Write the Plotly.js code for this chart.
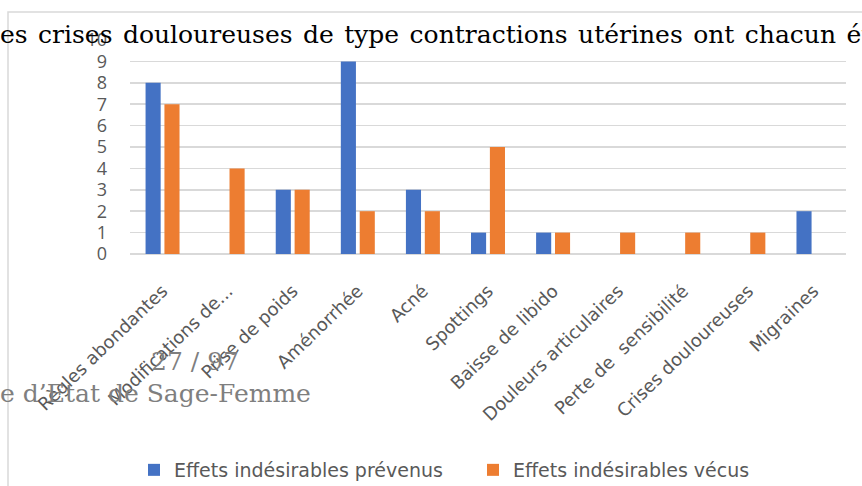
<!DOCTYPE html>
<html>
<head>
<meta charset="utf-8">
<script src="https://cdn.plot.ly/plotly-3.0.1.min.js"></script>
<style>
  html, body { margin: 0; padding: 0; background: #fff; }
  #plot { width: 862px; height: 486px; }
</style>
</head>
<body>
<div id="plot"></div>
<script>
// Categories and series
const categories = ["Règles abondantes", "Modifications de...", "Prise de poids", "Aménorrhée", "Acné",
  "Spottings", "Baisse de libido", "Douleurs articulaires", "Perte de  sensibilité",
  "Crises douloureuses", "Migraines"];
const prevenus = [8, 0, 3, 9, 3, 1, 1, 0, 0, 0, 2];
const vecus = [7, 4, 3, 2, 2, 5, 1, 1, 1, 1, 0];
const yTicks = [0, 1, 2, 3, 4, 5, 6, 7, 8, 9, 10];

// plot area in pixels, used to place the page-text overlays
const W = 862, H = 486;
const L = 130, R = 16, T = 40, B = 232;
const pw = W - L - R, ph = H - T - B;
const px = x => (x - L) / pw;
const py = y => (H - B - y) / ph;

const trace1 = {
  x: categories, y: prevenus, type: 'bar', name: 'Effets indésirables prévenus',
  marker: {color: '#4472c4'}
};
const trace2 = {
  x: categories, y: vecus, type: 'bar', name: 'Effets indésirables vécus',
  marker: {color: '#ed7d31'}
};

const serif = 'DejaVu Serif, serif';
const sp = ' \u200a';  // slightly wider gap between words, like the justified page text
const layout = {
  width: W, height: H,
  margin: {l: L, r: R, t: T, b: B, autoexpand: false},
  paper_bgcolor: '#fff', plot_bgcolor: '#fff',
  barmode: 'group', bargap: 0.42, bargroupgap: 0.2,
  font: {family: 'DejaVu Sans, sans-serif', color: '#595959'},
  xaxis: {
    tickangle: -44, tickfont: {family: 'DejaVu Sans, sans-serif', size: 18, color: '#595959'},
    showgrid: false, showline: false, ticks: '', zeroline: false,
    automargin: false, ticklabelstandoff: 22
  },
  yaxis: {
    range: [0, 10], tickvals: yTicks, ticks: '', ticklabelstandoff: 22, automargin: false,
    tickfont: {family: 'Open Sans, sans-serif', size: 18, color: '#595959'},
    gridcolor: '#d9d9d9', gridwidth: 1.5, zeroline: true, zerolinecolor: '#d9d9d9', zerolinewidth: 1.5,
    showline: false, fixedrange: true
  },
  showlegend: true,
  legend: {
    orientation: 'h', x: px(134), xanchor: 'left', y: py(470), yanchor: 'middle',
    font: {family: 'DejaVu Sans, sans-serif', size: 19, color: '#595959'},
    itemwidth: 30, entrywidth: 294
  },
  shapes: [{
    type: 'rect', xref: 'paper', yref: 'paper',
    x0: px(8), x1: px(900), y0: py(540), y1: py(12),
    line: {color: '#d9d9d9', width: 1.5}, layer: 'below'
  }],
  annotations: [
    {
      text: ['es', 'crises', 'douloureuses', 'de', 'type', 'contractions', 'utérines', 'ont', 'chacun', 'été'].join(sp),
      xref: 'paper', yref: 'paper', x: px(-2), y: py(34), xanchor: 'left', yanchor: 'middle',
      showarrow: false, font: {family: serif, size: 25, color: '#000'}
    },
    {
      text: '27 / 97',
      xref: 'paper', yref: 'paper', x: px(195), y: py(362), xanchor: 'center', yanchor: 'middle',
      showarrow: false, font: {family: serif, size: 25, color: '#7f7f7f'}
    },
    {
      text: 'e d’Etat de Sage-Femme',
      xref: 'paper', yref: 'paper', x: px(-2), y: py(394), xanchor: 'left', yanchor: 'middle',
      showarrow: false, font: {family: serif, size: 25, color: '#7f7f7f'}
    }
  ]
};

Plotly.newPlot('plot', [trace1, trace2], layout, {displayModeBar: false, staticPlot: true});
</script>
</body>
</html>
